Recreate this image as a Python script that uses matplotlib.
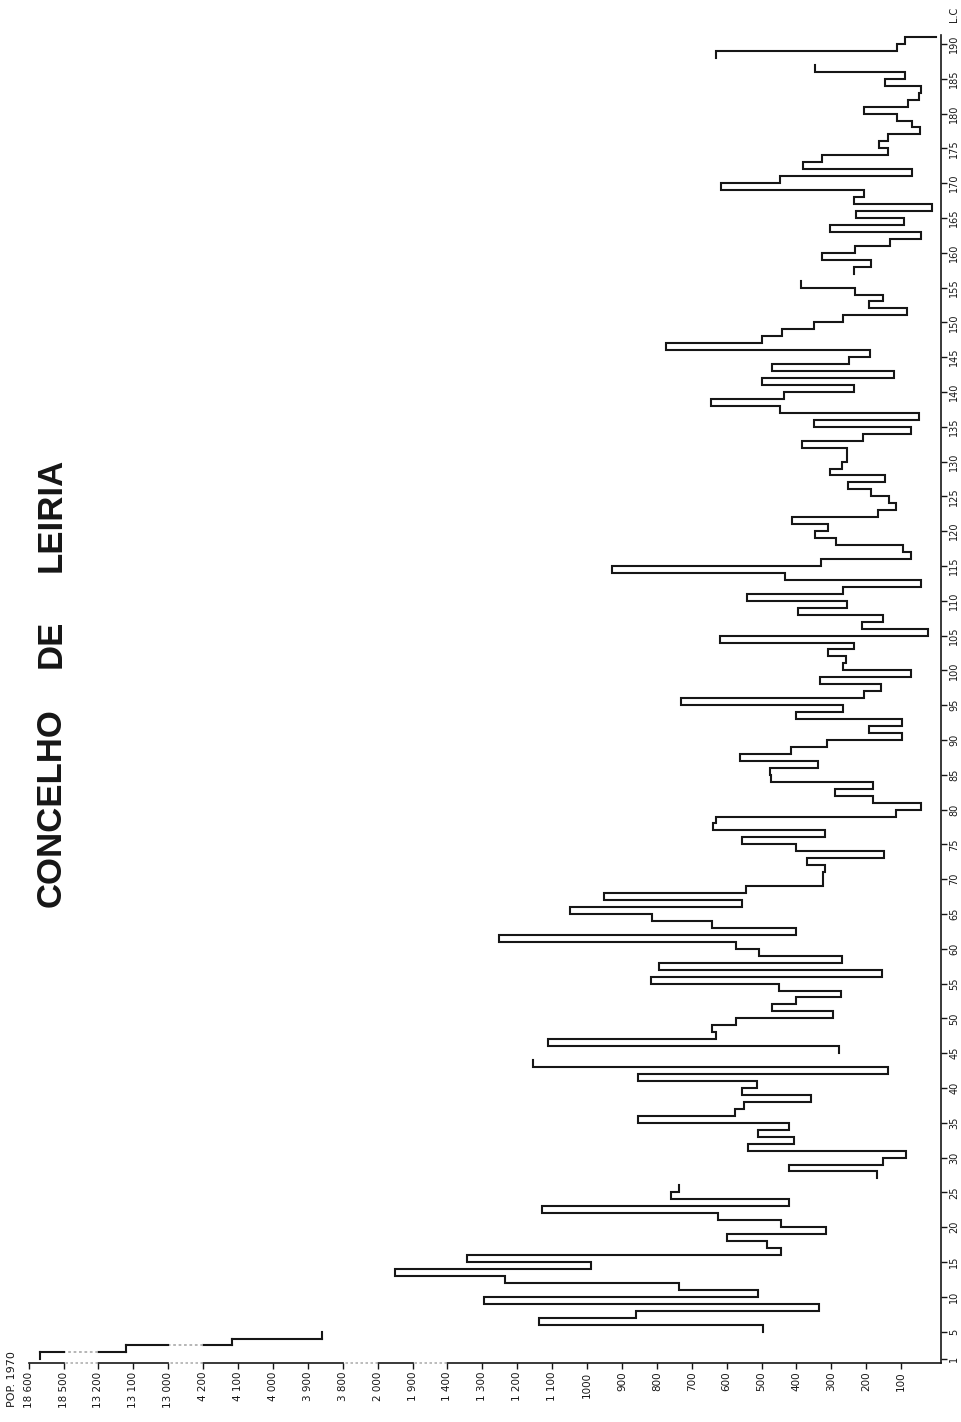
import numpy as np
import matplotlib
matplotlib.use("Agg")
from matplotlib import pyplot as plt
from matplotlib import font_manager

nan = np.nan

# L.C. numbers 1..190 and their 1970 population (nan = no line drawn there)
lc_numbers = np.arange(1, 191)
population = np.array([
    18569, 13121, 4118, 3860, 496, 1138, 860, 335, 1295, 509,        # 1-10
    737, 1234, 1950, 988, 1344, 445, 485, 598, 316, 445,             # 11-20
    626, 1129, 421, 758, 737, nan, 170, 421, 151, 86,                # 21-30
    539, 408, 509, 421, 854, 576, 549, 359, 555, 512,                # 31-40
    854, 137, 1154, nan, 277, 1111, 630, 642, 573, 295,              # 41-50
    469, 400, 271, 451, 817, 156, 793, 269, 507, 573,                # 51-60
    1253, 400, 642, 814, 1050, 557, 951, 544, 325, 325,              # 61-70
    317, 370, 148, 400, 557, 319, 640, 630, 116, 44,                 # 71-80
    180, 290, 180, 472, 477, 339, 562, 416, 311, 98,                 # 81-90
    191, 98, 400, 266, 731, 207, 159, 332, 73, 266,                  # 91-100
    258, 309, 236, 619, 23, 212, 151, 396, 255, 541,                 # 101-110
    266, 44, 434, 929, 330, 73, 95, 287, 346, 309,                   # 111-120
    414, 167, 116, 134, 186, 252, 146, 305, 268, 255,                # 121-130
    255, 384, 209, 73, 351, 50, 448, 646, 435, 234,                  # 131-140
    498, 121, 469, 248, 188, 774, 498, 442, 351, 266,                # 141-150
    84, 191, 151, 231, 386, nan, 234, 186, 328, 231,                 # 151-160
    132, 44, 305, 91, 228, 12, 234, 205, 615, 448,                   # 161-170
    70, 381, 328, 137, 164, 137, 47, 68, 111, 205,                   # 171-180
    81, 49, 44, 146, 89, 346, nan, 630, 111, 89,                     # 181-190
])
separate_after = [4]   # line is not joined between L.C. 4 and 5

# broken population axis: kept pieces and their ticks
axis_pieces = [(0, 1400), (1900, 2000), (3800, 4200), (13000, 13200), (18500, 18600)]
pop_ticks = [100, 200, 300, 400, 500, 600, 700, 800, 900, 1000, 1100, 1200, 1300,
             1400, 1900, 2000, 3800, 3900, 4000, 4100, 4200, 13000, 13100, 13200,
             18500, 18600]
pop_tick_labels = ["100", "200", "300", "400", "500", "600", "700", "800", "900",
                   "1000", "1 100", "1 200", "1 300", "1 400", "1 900", "2 000",
                   "3 800", "3 900", "4 000", "4 100", "4 200", "13 000", "13 100",
                   "13 200", "18 500", "18 600"]
lc_ticks = [1] + list(range(5, 191, 5))

ink = "#161616"
grey = "#b0b0b0"

names = {f.name for f in font_manager.fontManager.ttflist}
narrow = "Liberation Sans Narrow" if "Liberation Sans Narrow" in names else "DejaVu Sans"
bold_font = "Liberation Sans" if "Liberation Sans" in names else "DejaVu Sans"

# piecewise scale: each 100 inhabitants = 1 unit, each break = 1 unit
pk, uk = [-1000.0], [-10.0]
u = 0.0
for k, (lo, hi) in enumerate(axis_pieces):
    if k > 0:
        u += 1.0
    pk += [lo, hi]
    uk += [u, u + (hi - lo) / 100.0]
    u = uk[-1]
pk.append(40000.0)
uk.append(u + (40000.0 - pk[-2]) / 100.0)
pk, uk = np.array(pk), np.array(uk)


def fwd(x):
    return np.interp(x, pk, uk)


def inv(x):
    return np.interp(x, uk, pk)


def gap_pieces(a, b):
    """split a horizontal run a..b into (x0, x1, in_break) parts."""
    lo, hi = min(a, b), max(a, b)
    cuts = [lo, hi]
    for k in range(len(axis_pieces) - 1):
        for edge in (axis_pieces[k][1], axis_pieces[k + 1][0]):
            if lo < edge < hi:
                cuts.append(edge)
    cuts = sorted(cuts)
    parts = []
    for x0, x1 in zip(cuts[:-1], cuts[1:]):
        mid = (x0 + x1) / 2
        in_break = not any(p0 <= mid <= p1 for p0, p1 in axis_pieces)
        parts.append((x0, x1, in_break))
    return parts


W, H = 961, 1422
fig = plt.figure(figsize=(W / 100, H / 100), dpi=100)
fig.patch.set_facecolor("white")

# axes box in pixels: x 28..941, y 34.9..1363.3
ax = fig.add_axes([28 / W, 1 - 1363.3 / H, (941 - 28) / W, (1363.3 - 34.9) / H])
ax.set_xscale("function", functions=(fwd, inv))
ax.set_xlim(inv(26.02), inv(-0.143))
ax.set_ylim(0.44, 191.3)

# step outline, one piece per connected run
runs, cur = [], []
for n, v in zip(lc_numbers, population):
    if np.isnan(v) or (n - 1) in separate_after:
        if cur:
            runs.append(cur)
        cur = []
    if not np.isnan(v):
        cur.append(n)
if cur:
    runs.append(cur)

for run in runs:
    run = np.array(run)
    vals = population[run - 1]
    xs = list(np.repeat(vals, 2))
    ys = list(np.ravel(np.column_stack([run, run + 1])))
    if run[-1] == lc_numbers[-1]:
        xs.append(0)
        ys.append(run[-1] + 1)
    if vals.max() <= axis_pieces[0][1] + 1000:
        ax.plot(xs, ys, color=ink, lw=1.5, solid_joinstyle="miter")
        continue
    for (x0, y0), (x1, y1) in zip(zip(xs[:-1], ys[:-1]), zip(xs[1:], ys[1:])):
        if x0 == x1:
            ax.plot([x0, x1], [y0, y1], color=ink, lw=1.5)
        else:
            for a, b, br in gap_pieces(x0, x1):
                if br:
                    ax.plot([a, b], [y0, y0], color=grey, lw=1.3, ls=(0, (1.5, 1.5)))
                else:
                    ax.plot([a, b], [y0, y0], color=ink, lw=1.5)

# broken bottom axis
xt = ax.get_xaxis_transform()
for k, (lo, hi) in enumerate(axis_pieces):
    start = inv(-0.143) if k == 0 else lo
    ax.plot([start, hi], [0, 0], transform=xt, color=ink, lw=1.2, clip_on=False)
    if k > 0:
        ax.plot([axis_pieces[k - 1][1], lo], [0, 0], transform=xt, color=grey,
                lw=1.2, ls=(0, (1.5, 1.5)), clip_on=False)

for side in ("left", "top", "bottom"):
    ax.spines[side].set_visible(False)
ax.spines["right"].set_color(ink)
ax.spines["right"].set_linewidth(1.2)

ax.set_xticks(pop_ticks, pop_tick_labels)
ax.tick_params(axis="x", direction="out", length=4, width=1, color=ink, pad=2,
               labelrotation=90, labelsize=7.5, labelcolor=ink)
ax.yaxis.tick_right()
ax.set_yticks(lc_ticks, [str(t) for t in lc_ticks])
ax.tick_params(axis="y", direction="out", length=4, width=1, color=ink, pad=2,
               labelrotation=90, labelsize=7, labelcolor=ink)
for lab in ax.get_xticklabels() + ax.get_yticklabels():
    lab.set_family([narrow, "DejaVu Sans"])
for lab in ax.get_yticklabels():
    lab.set_verticalalignment("center")

# titles and axis names
for word, ypx in (("LEIRIA", 515), ("DE", 644), ("CONCELHO", 808)):
    fig.text(51 / W, 1 - ypx / H, word, rotation=90, ha="center", va="center",
             fontsize=25, fontweight="bold", family=bold_font, color=ink)
fig.text(12 / W, 1 - 1407 / H, "POP. 1970", rotation=90, ha="center", va="bottom",
         fontsize=8, family=[narrow, "DejaVu Sans"], color=ink)
fig.text(954 / W, 1 - 14 / H, "L.C", rotation=90, ha="center", va="center",
         fontsize=7, family=[narrow, "DejaVu Sans"], color=ink)

fig.savefig("out.png", dpi=100, facecolor="white")
